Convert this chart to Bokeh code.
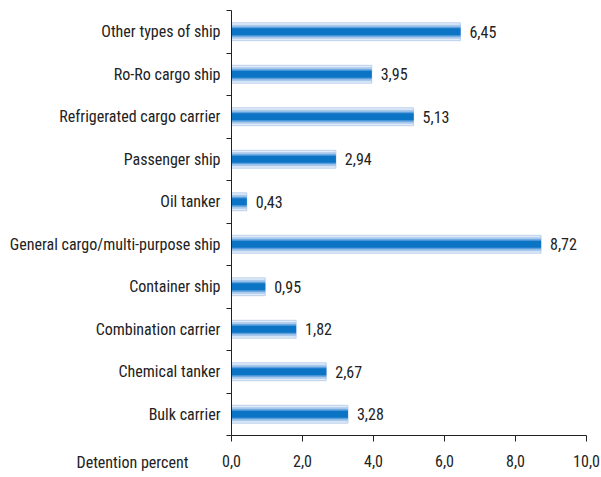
from bokeh.plotting import figure
from bokeh.models import FixedTicker, ColumnDataSource, Title
from bokeh.core.properties import value
from bokeh.embed import file_html
from bokeh.resources import INLINE

categories = ["Bulk carrier", "Chemical tanker", "Combination carrier", "Container ship",
              "General cargo/multi-purpose ship", "Oil tanker", "Passenger ship",
              "Refrigerated cargo carrier", "Ro-Ro cargo ship", "Other types of ship"]
values = [3.28, 2.67, 1.82, 0.95, 8.72, 0.43, 2.94, 5.13, 3.95, 6.45]
x_ticks = [0, 2, 4, 6, 8, 10]
x_tick_labels = ["0,0", "2,0", "4,0", "6,0", "8,0", "10,0"]
x_title = "Detention percent"
value_labels = [f"{v:.2f}".replace(".", ",") for v in values]

FONT = "'Roboto Condensed', 'DejaVu Sans Condensed', Roboto"
FS = "16px"
TXT = "#222222"

ys = [i + 0.5 for i in range(len(categories))]
src = ColumnDataSource(dict(y=ys, v=values, lab=value_labels))

p = figure(width=601, height=477, output_backend="svg", toolbar_location=None,
           x_range=(0, 10), y_range=(0, len(categories)),
           min_border_left=231, min_border_right=15, min_border_top=10, min_border_bottom=42)
p.outline_line_color = None
p.grid.grid_line_color = None
p.background_fill_color = "white"

layers = [
    (0.42, "#e2ecf8", "#bcd0ee"),
    (0.33, "#a9c9ec", None),
    (0.235, "#5c9fdc", None),
    (0.16, "#0b74c4", None),
]
for h, fc, lc in layers:
    p.hbar(y="y", right="v", left=0, height=h, source=src, fill_color=fc,
           line_color=lc, line_width=1 if lc else 0)

p.text(x="v", y="y", text="lab", source=src, x_offset=9, text_align="left",
       text_baseline="middle", text_font=value(FONT), text_font_size=FS, text_color=TXT)

p.xaxis.ticker = FixedTicker(ticks=x_ticks)
p.xaxis.major_label_overrides = {t: l for t, l in zip(x_ticks, x_tick_labels)}
p.xaxis.major_tick_in = 0
p.xaxis.major_tick_out = 6
p.xaxis.minor_tick_line_color = None
p.xaxis.major_label_standoff = 13
p.xaxis.axis_line_color = TXT
p.xaxis.major_tick_line_color = TXT
p.xaxis.major_label_text_font = FONT
p.xaxis.major_label_text_font_size = FS
p.xaxis.major_label_text_color = TXT

bounds = list(range(len(categories) + 1))
p.yaxis.ticker = FixedTicker(ticks=ys, minor_ticks=bounds)
p.yaxis.major_label_overrides = {y: c for y, c in zip(ys, categories)}
p.yaxis.major_tick_line_color = None
p.yaxis.major_tick_out = 0
p.yaxis.major_tick_in = 0
p.yaxis.minor_tick_in = 0
p.yaxis.minor_tick_out = 5
p.yaxis.minor_tick_line_color = TXT
p.yaxis.axis_line_color = TXT
p.yaxis.major_label_standoff = 6
p.yaxis.major_label_text_font = FONT
p.yaxis.major_label_text_font_size = FS
p.yaxis.major_label_text_color = TXT

t = Title(text=x_title, align="left", offset=-155, standoff=-34, vertical_align="top",
          text_font=FONT, text_font_size=FS, text_font_style="normal", text_color=TXT)
p.add_layout(t, "below")

open("out.html", "w").write(file_html(p, INLINE))
